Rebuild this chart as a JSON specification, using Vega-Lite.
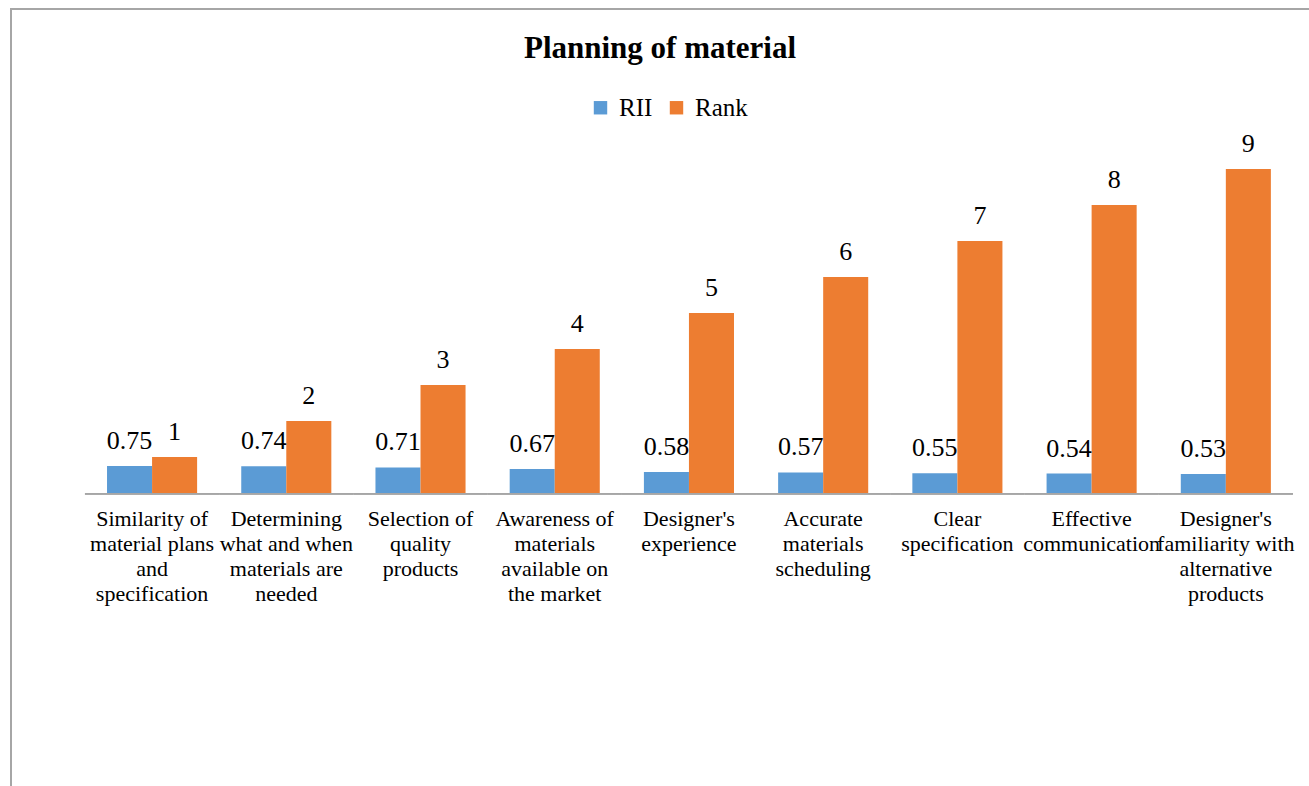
{
  "$schema": "https://vega.github.io/schema/vega-lite/v6.json",
  "width": 1310,
  "height": 790,
  "autosize": {"type": "none"},
  "padding": {"left": 11, "top": 9, "right": 0, "bottom": 0},
  "background": "white",
  "config": {
    "view": {"stroke": "#A6A6A6", "strokeWidth": 2},
    "font": "Liberation Serif"
  },
  "title": {
    "text": "Planning of material",
    "font": "Liberation Serif",
    "fontSize": 31,
    "fontWeight": "bold",
    "color": "black",
    "anchor": "middle",
    "baseline": "alphabetic",
    "offset": -80,
    "dx": -6
  },
  "data": {
    "values": [
      {"category": "Similarity of\nmaterial plans\nand\nspecification", "series": "RII", "value": 0.75},
      {"category": "Similarity of\nmaterial plans\nand\nspecification", "series": "Rank", "value": 1},
      {"category": "Determining\nwhat and when\nmaterials are\nneeded", "series": "RII", "value": 0.74},
      {"category": "Determining\nwhat and when\nmaterials are\nneeded", "series": "Rank", "value": 2},
      {"category": "Selection of\nquality\nproducts", "series": "RII", "value": 0.71},
      {"category": "Selection of\nquality\nproducts", "series": "Rank", "value": 3},
      {"category": "Awareness of\nmaterials\navailable on\nthe market", "series": "RII", "value": 0.67},
      {"category": "Awareness of\nmaterials\navailable on\nthe market", "series": "Rank", "value": 4},
      {"category": "Designer's\nexperience", "series": "RII", "value": 0.58},
      {"category": "Designer's\nexperience", "series": "Rank", "value": 5},
      {"category": "Accurate\nmaterials\nscheduling", "series": "RII", "value": 0.57},
      {"category": "Accurate\nmaterials\nscheduling", "series": "Rank", "value": 6},
      {"category": "Clear\nspecification", "series": "RII", "value": 0.55},
      {"category": "Clear\nspecification", "series": "Rank", "value": 7},
      {"category": "Effective\ncommunication", "series": "RII", "value": 0.54},
      {"category": "Effective\ncommunication", "series": "Rank", "value": 8},
      {"category": "Designer's\nfamiliarity with\nalternative\nproducts", "series": "RII", "value": 0.53},
      {"category": "Designer's\nfamiliarity with\nalternative\nproducts", "series": "Rank", "value": 9}
    ]
  },
  "encoding": {
    "x": {
      "field": "category",
      "type": "nominal",
      "sort": null,
      "scale": {"paddingInner": 0, "paddingOuter": 0.38, "align": 0.725},
      "axis": {
        "title": null,
        "orient": "bottom",
        "offset": -306,
        "domain": false,
        "ticks": false,
        "grid": false,
        "labelAngle": 0,
        "labelFont": "Liberation Serif",
        "labelFontSize": 22,
        "labelColor": "black",
        "labelLineHeight": 25,
        "labelPadding": 15,
        "labelBaseline": "top",
        "labelLimit": 0,
        "labelOverlap": false,
        "labelBound": false,
        "labelExpr": "split(datum.label, '\\n')"
      }
    }
  },
  "layer": [
    {
      "mark": {"type": "bar", "color": "#A6A6A6"},
      "encoding": {
        "y": {"datum": 0, "type": "quantitative", "scale": {"domain": [-8.5, 13.4444], "nice": false, "zero": false}, "axis": null},
        "y2": {"datum": -0.05}
      }
    },
    {
      "mark": {"type": "bar"},
      "encoding": {
        "xOffset": {"field": "series", "type": "nominal", "sort": ["RII", "Rank"], "scale": {"paddingInner": 0, "paddingOuter": 0.49}},
        "y": {"field": "value", "type": "quantitative", "scale": {"domain": [-8.5, 13.4444], "nice": false, "zero": false}, "axis": null},
        "color": {
          "field": "series",
          "type": "nominal",
          "sort": ["RII", "Rank"],
          "scale": {"domain": ["RII", "Rank"], "range": ["#5B9BD5", "#ED7D31"]},
          "legend": {
            "title": null,
            "orient": "none",
            "legendX": 577,
            "legendY": 86,
            "direction": "horizontal",
            "symbolType": "square",
            "symbolSize": 180,
            "symbolStrokeWidth": 0,
            "labelFont": "Liberation Serif",
            "labelFontSize": 25,
            "labelColor": "black",
            "labelOffset": 6,
            "columnPadding": 11
          }
        }
      }
    },
    {
      "mark": {"type": "text", "font": "Liberation Serif", "fontSize": 26, "baseline": "alphabetic", "dy": -17, "color": "black"},
      "encoding": {
        "xOffset": {"field": "series", "type": "nominal", "sort": ["RII", "Rank"], "scale": {"paddingInner": 0, "paddingOuter": 0.49}},
        "y": {"field": "value", "type": "quantitative", "scale": {"domain": [-8.5, 13.4444], "nice": false, "zero": false}, "axis": null},
        "text": {"field": "value", "type": "quantitative"}
      }
    }
  ]
}
